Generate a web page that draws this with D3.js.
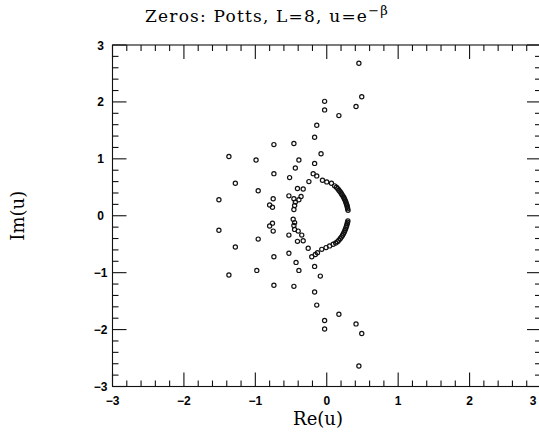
<!DOCTYPE html>
<html>
<head>
<meta charset="utf-8">
<script src="https://cdn.jsdelivr.net/npm/d3@7"></script>
<style>
  body { margin: 0; background: #fff; }
  svg { display: block; }
</style>
</head>
<body>
<svg width="539" height="437"></svg>
<script>
"use strict";

// zeros: [Re(u), Im(u)]
const zerosUpper = [
  [0.45, 2.68], [0.49, 2.09], [0.41, 1.92], [-0.03, 2.01], [-0.03, 1.86],
  [0.17, 1.76], [-0.14, 1.59], [-0.17, 1.38], [-0.46, 1.27], [-0.74, 1.25],
  [-0.08, 1.09], [-1.37, 1.04], [-0.99, 0.98], [-0.39, 0.98], [-0.17, 0.92],
  [-0.44, 0.84], [-0.74, 0.74], [-0.52, 0.67], [-0.25, 0.60], [-1.28, 0.57],
  [-0.96, 0.44], [-0.41, 0.48], [-0.33, 0.47], [-1.51, 0.28], [-0.75, 0.30],
  [-0.80, 0.19], [-0.76, 0.15], [-0.53, 0.35], [-0.46, 0.30], [-0.36, 0.34],
  [-0.39, 0.28], [-0.44, 0.24], [-0.45, 0.18], [-0.46, 0.11]
];
const zerosLower = [
  [0.45, -2.64], [0.49, -2.07], [0.41, -1.90], [-0.03, -1.99], [-0.03, -1.84],
  [0.17, -1.73], [-0.14, -1.57], [-0.17, -1.34], [-0.46, -1.24], [-0.74, -1.22],
  [-0.09, -1.06], [-1.37, -1.04], [-0.98, -0.96], [-0.39, -0.96], [-0.17, -0.89],
  [-0.43, -0.82], [-0.74, -0.72], [-0.53, -0.66], [-0.26, -0.57], [-1.28, -0.55],
  [-0.96, -0.41], [-0.41, -0.45], [-0.33, -0.44], [-1.51, -0.255], [-0.75, -0.27],
  [-0.80, -0.18], [-0.76, -0.13], [-0.53, -0.34], [-0.40, -0.27], [-0.35, -0.34],
  [-0.47, -0.06], [-0.45, -0.12], [-0.46, -0.17], [-0.45, -0.24]
];
const arcUpper = [
  [-0.19, 0.74], [-0.14, 0.70], [-0.06, 0.625], [0.0, 0.595], [0.066, 0.57],
  [0.11, 0.525], [0.135, 0.50], [0.155, 0.475], [0.17, 0.45], [0.185, 0.425],
  [0.20, 0.40], [0.212, 0.375], [0.225, 0.35], [0.237, 0.325], [0.247, 0.30],
  [0.256, 0.275], [0.264, 0.25], [0.271, 0.225], [0.278, 0.20], [0.284, 0.175],
  [0.289, 0.15], [0.293, 0.125], [0.298, 0.095]
];
const arcLower = [
  [-0.21, -0.72], [-0.16, -0.68], [-0.13, -0.65], [-0.07, -0.59], [-0.01, -0.56],
  [0.04, -0.53], [0.09, -0.50], [0.125, -0.48], [0.15, -0.455], [0.17, -0.43],
  [0.19, -0.40], [0.205, -0.375], [0.22, -0.345], [0.233, -0.315], [0.244, -0.29],
  [0.254, -0.26], [0.263, -0.23], [0.271, -0.20], [0.279, -0.17], [0.286, -0.14],
  [0.291, -0.115], [0.296, -0.09]
];
const majorTicks = [-3, -2, -1, 0, 1, 2, 3];
const minorTicks = d3.range(-30, 31, 2).map(v => v / 10).filter(v => !majorTicks.includes(v));

var svg = d3.select("svg");

var x = d3.scaleLinear().domain([-3, 3]).range([112.5, 541]),
    y = d3.scaleLinear().domain([-3, 3]).range([386.5, 45]);

// frame
svg.append("rect")
    .attr("x", x(-3)).attr("y", y(3))
    .attr("width", x(3) - x(-3)).attr("height", y(-3) - y(3))
    .attr("fill", "none").attr("stroke", "#111").attr("stroke-width", 1.1);

// inward ticks on all four sides
function ticks(sel, vals, len) {
  sel.selectAll(null).data(vals).enter().append("line")
      .attr("x1", d => x(d)).attr("x2", d => x(d))
      .attr("y1", y(-3)).attr("y2", y(-3) - len);
  sel.selectAll(null).data(vals).enter().append("line")
      .attr("x1", d => x(d)).attr("x2", d => x(d))
      .attr("y1", y(3)).attr("y2", y(3) + len);
  sel.selectAll(null).data(vals).enter().append("line")
      .attr("y1", d => y(d)).attr("y2", d => y(d))
      .attr("x1", x(-3)).attr("x2", x(-3) + len);
  sel.selectAll(null).data(vals).enter().append("line")
      .attr("y1", d => y(d)).attr("y2", d => y(d))
      .attr("x1", x(3)).attr("x2", x(3) - len);
}
var tg = svg.append("g").attr("stroke", "#111").attr("stroke-width", 1.1);
ticks(tg, majorTicks, 14);
ticks(tg, minorTicks, 6);

var fmt = d => d < 0 ? "\u2212" + Math.abs(d) : String(d);

// last x label sits on the right edge, cut like in the scan
svg.append("g").selectAll("text").data(majorTicks).enter().append("text")
    .attr("x", d => Math.min(x(d), 533)).attr("y", y(-3) + 18)
    .attr("text-anchor", "middle")
    .style("font", "bold 12px 'Liberation Sans', sans-serif")
    .text(fmt);

svg.append("g").selectAll("text").data(majorTicks).enter().append("text")
    .attr("x", x(-3) - 12).attr("y", d => y(d) + 4.5)
    .attr("text-anchor", "middle")
    .style("font", "bold 12px 'Liberation Sans', sans-serif")
    .text(fmt);

// zeros
var allZeros = zerosUpper.concat(zerosLower, arcUpper, arcLower);
svg.append("g").selectAll("circle").data(allZeros).enter().append("circle")
    .attr("cx", d => x(d[0])).attr("cy", d => y(d[1]))
    .attr("r", 2.1)
    .attr("fill", "none").attr("stroke", "#111").attr("stroke-width", 1.2);

// labels
var serif = "'DejaVu Serif', serif";
var title = svg.append("text")
    .attr("x", 267).attr("y", 22)
    .attr("text-anchor", "middle")
    .style("font-family", serif).style("font-size", "17px")
    .style("letter-spacing", "1.2px");
title.append("tspan").text("Zeros: Potts, L=8, u=e");
title.append("tspan").attr("dy", -7).style("font-size", "13px").text("\u2212\u03b2");

svg.append("text")
    .attr("x", 318).attr("y", 425)
    .attr("text-anchor", "middle")
    .style("font-family", serif).style("font-size", "18px")
    .text("Re(u)");

svg.append("text")
    .attr("transform", "translate(24," + y(0) + ") rotate(-90)")
    .attr("text-anchor", "middle")
    .style("font-family", serif).style("font-size", "18px")
    .text("Im(u)");
</script>
</body>
</html>
